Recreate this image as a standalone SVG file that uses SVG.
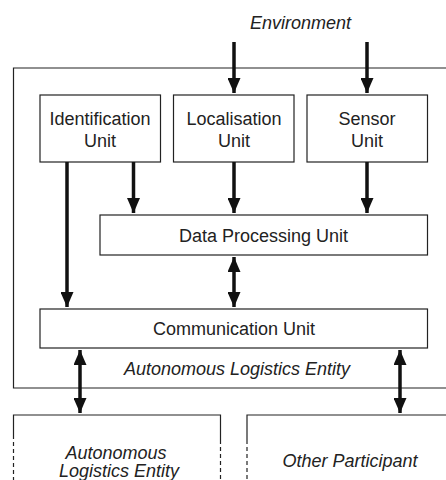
<svg xmlns="http://www.w3.org/2000/svg" width="446" height="480" viewBox="0 0 446 480">
<defs>
<style>
.box{fill:#fff;stroke:#222;stroke-width:1.2}
.t{font-family:"Liberation Sans",Arial,sans-serif;font-size:18px;fill:#222;text-anchor:middle}
.i{font-style:italic}
.c{stroke:#111;stroke-width:3.5;fill:none}
.sl{stroke:#222;stroke-width:1.2;fill:none}
.dl{stroke:#222;stroke-width:1.2;fill:none;stroke-dasharray:4,3}
</style>
<marker id="ah" viewBox="0 0 15 13" refX="15" refY="6.5" markerWidth="15" markerHeight="13" markerUnits="userSpaceOnUse" orient="auto-start-reverse">
<path d="M0,0 L15,6.5 L0,13 Z" fill="#111"/>
</marker>
</defs>
<text class="t i" x="300.5" y="28.5">Environment</text>
<g id="ale">
<path class="sl" d="M447,68 H13.5 V388 H447"/>
<text class="t i" x="237" y="375">Autonomous Logistics Entity</text>
</g>
<g id="identification">
<rect class="box" x="40" y="95" width="120.5" height="67"/>
<text class="t" x="100" y="125">Identification</text>
<text class="t" x="100" y="147">Unit</text>
</g>
<g id="localisation">
<rect class="box" x="173.5" y="95" width="120.5" height="67"/>
<text class="t" x="234" y="125">Localisation</text>
<text class="t" x="234" y="147">Unit</text>
</g>
<g id="sensor">
<rect class="box" x="307" y="95" width="120.5" height="67"/>
<text class="t" x="367" y="125">Sensor</text>
<text class="t" x="367" y="147">Unit</text>
</g>
<g id="dpu">
<rect class="box" x="100" y="215" width="327.5" height="40"/>
<text class="t" x="263.5" y="241.5">Data Processing Unit</text>
</g>
<g id="comm">
<rect class="box" x="40" y="309" width="387.5" height="39"/>
<text class="t" x="234" y="335">Communication Unit</text>
</g>
<g id="other-ale">
<path class="sl" d="M13.5,435 V415 H220.5 V440"/>
<path class="dl" d="M13.5,435 V480 M220.5,440 V480"/>
<text class="t i" x="116" y="458.5">Autonomous</text>
<text class="t i" x="119" y="476.5">Logistics Entity</text>
</g>
<g id="other-participant">
<path class="sl" d="M247,440 V415 H447"/>
<path class="dl" d="M247,440 V480"/>
<text class="t i" x="350" y="467">Other Participant</text>
</g>
<g id="connectors">
<line class="c" x1="234" y1="42" x2="234" y2="93" marker-end="url(#ah)"/>
<line class="c" x1="367" y1="42" x2="367" y2="93" marker-end="url(#ah)"/>
<line class="c" x1="67" y1="162" x2="67" y2="307" marker-end="url(#ah)"/>
<line class="c" x1="133.5" y1="162" x2="133.5" y2="213" marker-end="url(#ah)"/>
<line class="c" x1="234" y1="162" x2="234" y2="213" marker-end="url(#ah)"/>
<line class="c" x1="367" y1="162" x2="367" y2="213" marker-end="url(#ah)"/>
<line class="c" x1="234" y1="257" x2="234" y2="307" marker-start="url(#ah)" marker-end="url(#ah)"/>
<line class="c" x1="80" y1="350" x2="80" y2="413" marker-start="url(#ah)" marker-end="url(#ah)"/>
<line class="c" x1="400" y1="350" x2="400" y2="413" marker-start="url(#ah)" marker-end="url(#ah)"/>
</g>
</svg>
